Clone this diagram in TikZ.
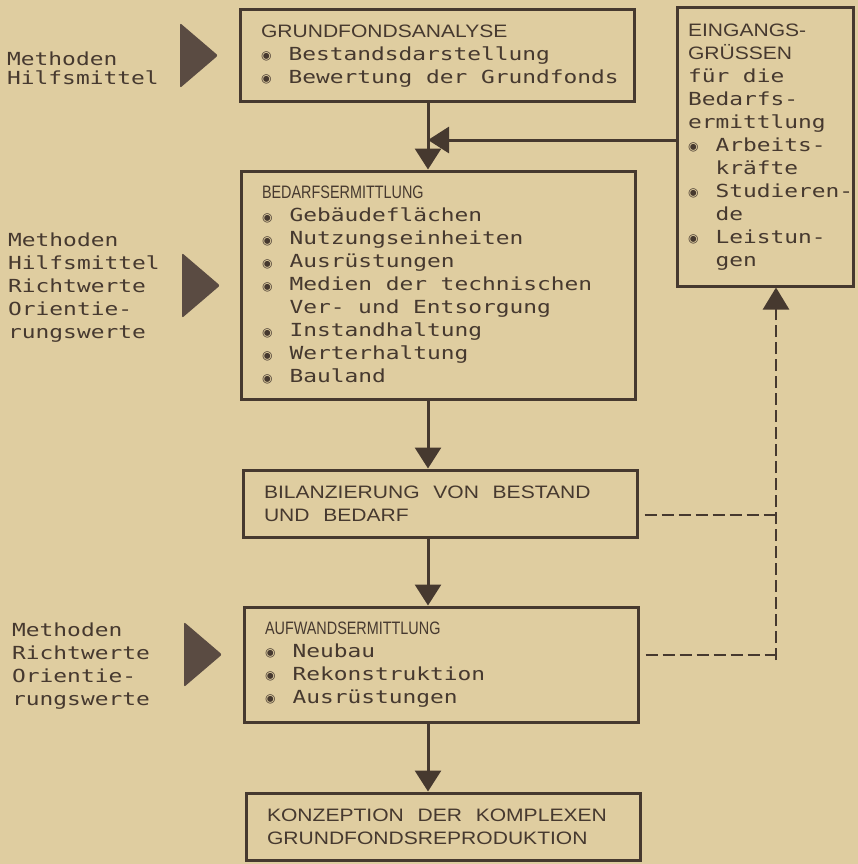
\documentclass[tikz,border=0pt]{standalone}
\usepackage{fontspec}
\usepackage{graphicx}
\usetikzlibrary{arrows.meta}
\newfontfamily\tw[FakeStretch=1.27]{DejaVu Sans Mono}
\newfontfamily\hdw[FakeStretch=1.17]{Liberation Sans}
\newfontfamily\hdn[FakeStretch=0.8]{Liberation Sans}
\newfontfamily\symf{DejaVu Sans}
\definecolor{ink}{HTML}{46392F}
\definecolor{paper}{HTML}{DFCDA0}
\definecolor{trifill}{HTML}{5A4B42}
\newcommand\twfont{\tw\fontsize{18}{23}\selectfont}
\newcommand\bul{\makebox[27.5pt][l]{\raisebox{0.5pt}{\symf\fontsize{12}{12}\selectfont ◉}}}
\newcommand\ind{\hspace*{27.5pt}}

\tikzset{
  blk/.style={draw=ink, line width=3pt, text=ink, inner xsep=21pt, inner ysep=0pt,
    align=left, text width=352pt, minimum width=394pt, font=\twfont,
    execute at begin node={\spaceskip=13.7pt\xspaceskip=13.7pt\hyphenpenalty=10000}},
  lbl/.style={text=ink, inner sep=0pt, anchor=west, align=left, font=\twfont},
  arr/.style={draw=ink, line width=3pt, -{Triangle[length=21pt,width=26pt]}},
  dsh/.style={draw=ink, line width=2.5pt, dash pattern=on 12pt off 5pt}
}

\begin{document}
\begin{tikzpicture}[x=1pt, y=-1pt]

\fill[paper] (0,0) rectangle (858,864);
\useasboundingbox (0,0) rectangle (858,864);

\node[blk, minimum height=92pt] (ana) at (437,56)
  {{\hdw GRUNDFONDSANALYSE}\\
   \bul Bestandsdarstellung\\
   \makebox[352pt][l]{\bul Bewertung der Grundfonds}};

\node[blk, minimum height=228pt] (bed) at (438,285)
  {{\hdn BEDARFSERMITTLUNG}\\
   \bul Gebäudeflächen\\
   \bul Nutzungseinheiten\\
   \bul Ausrüstungen\\
   \bul Medien der technischen\\
   \ind Ver- und Entsorgung\\
   \bul Instandhaltung\\
   \bul Werterhaltung\\
   \bul Bauland};

\node[blk, minimum height=67pt] (bil) at (440,503.5)
  {{\hdw BILANZIERUNG VON BESTAND\\
   UND BEDARF}};

\node[blk, minimum height=115pt] (auf) at (441,664.5)
  {{\hdn AUFWANDSERMITTLUNG}\\
   \bul Neubau\\
   \bul Rekonstruktion\\
   \bul Ausrüstungen};

\node[blk, minimum height=67pt] (kon) at (443,826.5)
  {{\hdw KONZEPTION DER KOMPLEXEN\\
   GRUNDFONDSREPRODUKTION}};

\node[blk, minimum height=278pt, inner xsep=11pt, text width=154pt, minimum width=176pt] (inp) at (765,147)
  {{\hdw EINGANGS-\\
   GRÜSSEN}\\
   für die\\
   Bedarfs-\\
   ermittlung\\
   \bul Arbeits-\\
   \ind kräfte\\
   \makebox[154pt][l]{\bul Studieren-}\\
   \ind de\\
   \bul Leistun-\\
   \ind gen};

\node[lbl, font={\twfont\fontsize{18}{19}\selectfont}] (lab1) at (7,68) {Methoden\\Hilfsmittel};
\node[lbl] (lab2) at (8,288) {Methoden\\Hilfsmittel\\Richtwerte\\Orientie-\\rungswerte};
\node[lbl] (lab3) at (12,666) {Methoden\\Richtwerte\\Orientie-\\rungswerte};

\foreach \x/\y in {180/23, 182/253, 184/622} {
    \fill[trifill, rounded corners=2pt] (\x,\y) -- (\x+38,\y+32.5) -- (\x,\y+65) -- cycle;
}

\coordinate (j) at (428,140);
\draw[arr] (ana.south -| j) -- (bed.north -| j);
\draw[arr] (j -| inp.west) -- (j);
\draw[arr] (bed.south -| j) -- (bil.north -| j);
\draw[arr] (bil.south -| j) -- (auf.north -| j);
\draw[arr] (auf.south -| j) -- (kon.north -| j);

\coordinate (d0) at (776,660);
\coordinate (d1) at (776,515);
\coordinate (d2) at (776,655);
\draw[dsh] (d1 -| bil.east) ++(6,0) -- ([xshift=4pt]d1);
\draw[dsh] (d2 -| auf.east) ++(6,0) -- ([xshift=4pt]d2);
\draw[dsh, -{Triangle[length=22pt,width=26pt]}] (d0) -- (d0 |- inp.south);

\end{tikzpicture}
\end{document}
